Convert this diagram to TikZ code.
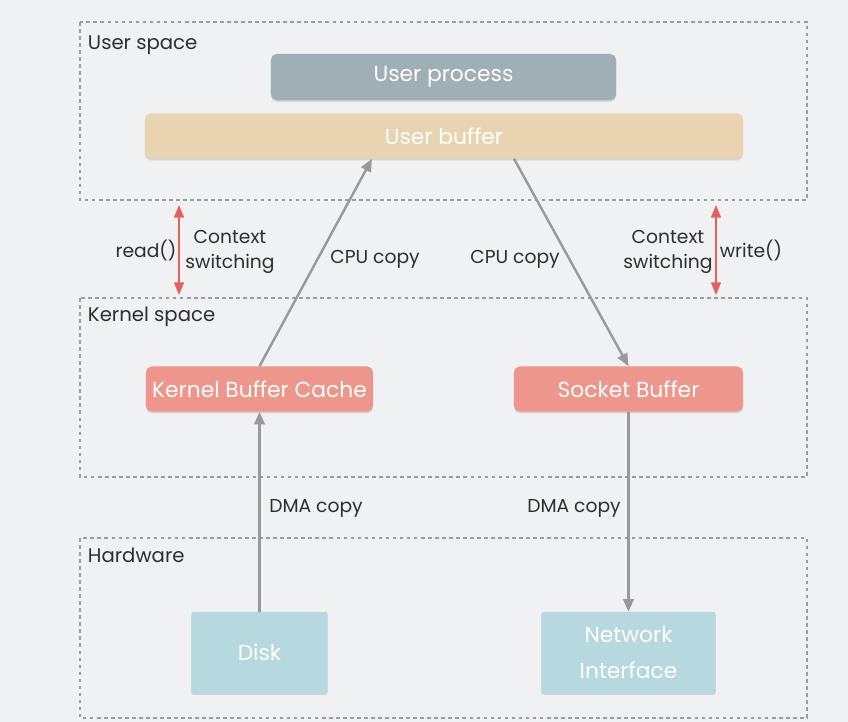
\documentclass[tikz,border=0pt]{standalone}
\usepackage{fontspec}
\setmainfont{Poppins}
\usetikzlibrary{arrows.meta,shadows}

\definecolor{bgcol}{HTML}{F0F1F3}
\definecolor{framecol}{HTML}{9C9C9C}
\definecolor{proccol}{HTML}{A0AEB6}
\definecolor{bufcol}{HTML}{E8D4B0}
\definecolor{kerncol}{HTML}{EE968C}
\definecolor{hwcol}{HTML}{B6D8DF}
\definecolor{arrcol}{HTML}{999999}
\definecolor{ctxcol}{HTML}{E5625C}
\definecolor{txtcol}{HTML}{2E2E2E}

\begin{document}
\begin{tikzpicture}[x=0.025cm,y=-0.025cm,
  area/.style={draw=framecol,line width=2.1pt,dash pattern=on 2.6pt off 2.4pt},
  arealabel/.style={anchor=west,text=txtcol,font=\fontsize{14}{16}\selectfont},
  box/.style={rounded corners=4pt,inner sep=0pt,text=white,align=center,
    font=\fontsize{15.5}{25}\selectfont,
    drop shadow={opacity=0.25,shadow xshift=0pt,shadow yshift=-1.3pt}},
  copyline/.style={draw=arrcol,line width=1.7pt,-{Triangle[length=9pt,width=7.5pt]}},
  ctxline/.style={draw=ctxcol,line width=1.4pt,{Triangle[length=9pt,width=7pt]}-{Triangle[length=9pt,width=7pt]}},
  lbl/.style={text=txtcol,font=\fontsize{13.3}{18}\selectfont,align=center}]

  %背景
  \fill[bgcol] (0,0) rectangle (848,722);
  \useasboundingbox (0,0) rectangle (848,722);

  %枠
  \draw[area] (80,22) rectangle (807,200);
  \draw[area] (80,298) rectangle (807,477);
  \draw[area] (80,538) rectangle (807,718);

  \node[arealabel] (userlbl) at (83,45) {User space};
  \node[arealabel] (kernlbl) at (83,317) {Kernel space};
  \node[arealabel] (hwlbl) at (83,555) {Hardware};

  %箱
  \node[box,fill=proccol,minimum width=8.625cm,minimum height=1.15cm] (userproc) at (443.5,77) {User process};
  \node[box,fill=bufcol,minimum width=14.95cm,minimum height=1.125cm] (userbuf) at (444,136) {User buffer};
  \node[box,fill=kerncol,minimum width=5.675cm,minimum height=1.125cm] (kbc) at (259.5,389) {Kernel Buffer Cache};
  \node[box,fill=kerncol,minimum width=5.725cm,minimum height=1.125cm] (sock) at (628.5,389) {Socket Buffer};
  \node[box,fill=hwcol,rounded corners=1pt,minimum width=3.4cm,minimum height=2.025cm] (disk) at (259.5,652.5) {Disk};
  \node[box,fill=hwcol,rounded corners=1pt,minimum width=4.35cm,minimum height=2.025cm] (nic) at (628.5,652.5) {Network\\Interface};

  %矢印
  \draw[copyline] (kbc.north) -- ([xshift=-1.8cm]userbuf.south);
  \draw[copyline] ([xshift=1.75cm]userbuf.south) -- (sock.north);
  \draw[copyline] (disk.north) -- (kbc.south);
  \draw[copyline] (sock.south) -- (nic.north);

  %コンテキスト切替
  \coordinate (rtopL) at (179,205);
  \coordinate (rbotL) at (179,295);
  \coordinate (rtopR) at (716,205);
  \coordinate (rbotR) at (716,295);
  \draw[ctxline] (rtopL) -- (rbotL);
  \draw[ctxline] (rtopR) -- (rbotR);

  %ラベル
  \node[lbl] (readlbl) at (146,251) {read()};
  \node[lbl] (ctxL) at (230,252) {Context\\switching};
  \node[lbl] (cpuL) at (375,259) {CPU copy};
  \node[lbl] (cpuR) at (515,259) {CPU copy};
  \node[lbl] (ctxR) at (668,252) {Context\\switching};
  \node[lbl] (writelbl) at (751,251) {write()};
  \node[lbl] (dmaL) at (316,508) {DMA copy};
  \node[lbl] (dmaR) at (574,508) {DMA copy};
\end{tikzpicture}
\end{document}
